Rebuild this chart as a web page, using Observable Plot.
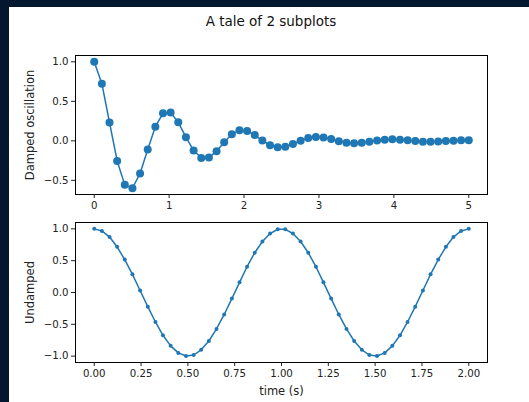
<!DOCTYPE html>
<html>
<head>
<meta charset="utf-8">
<script src="https://cdn.jsdelivr.net/npm/d3@7"></script>
<script src="https://cdn.jsdelivr.net/npm/@observablehq/plot@0.6"></script>
<style>
  body { margin: 0; width: 529px; height: 402px; background: #03182f; position: relative; overflow: hidden; font-family: "DejaVu Sans", sans-serif; }
  #panel { position: absolute; left: 9px; top: 7px; width: 520px; height: 395px; background: #ffffff; }
  #title { position: absolute; left: 11px; width: 520px; top: 13px; text-align: center; font-size: 13.5px; color: #111; }
  .sub { position: absolute; left: 0; }
  g[aria-label$="axis label"] { font-size: 11.5px; }
</style>
</head>
<body>
<div id="panel"></div>
<div id="title">A tale of 2 subplots</div>
<div id="top" class="sub" style="top:40px"></div>
<div id="bottom" class="sub" style="top:215px"></div>
<script>
const x1 = [0, 0.102, 0.204, 0.306, 0.408, 0.510, 0.612, 0.714, 0.816, 0.918, 1.020, 1.122, 1.224, 1.327, 1.429, 1.531, 1.633, 1.735, 1.837, 1.939, 2.041, 2.143, 2.245, 2.347, 2.449, 2.551, 2.653, 2.755, 2.857, 2.959, 3.061, 3.163, 3.265, 3.367, 3.469, 3.571, 3.673, 3.776, 3.878, 3.980, 4.082, 4.184, 4.286, 4.388, 4.490, 4.592, 4.694, 4.796, 4.898, 5.000];
const y1 = [1.000, 0.724, 0.232, -0.254, -0.557, -0.599, -0.413, -0.109, 0.179, 0.348, 0.358, 0.234, 0.047, -0.123, -0.216, -0.212, -0.131, -0.017, 0.083, 0.133, 0.126, 0.073, 0.003, -0.055, -0.082, -0.074, -0.040, 0.002, 0.036, 0.050, 0.043, 0.022, -0.004, -0.023, -0.031, -0.025, -0.012, 0.004, 0.015, 0.019, 0.015, 0.006, -0.003, -0.010, -0.011, -0.009, -0.003, 0.002, 0.006, 0.007];
const x2 = [0, 0.041, 0.082, 0.122, 0.163, 0.204, 0.245, 0.286, 0.327, 0.367, 0.408, 0.449, 0.490, 0.531, 0.571, 0.612, 0.653, 0.694, 0.735, 0.776, 0.816, 0.857, 0.898, 0.939, 0.980, 1.020, 1.061, 1.102, 1.143, 1.184, 1.224, 1.265, 1.306, 1.347, 1.388, 1.429, 1.469, 1.510, 1.551, 1.592, 1.633, 1.673, 1.714, 1.755, 1.796, 1.837, 1.878, 1.918, 1.959, 2.000];
const y2 = [1.000, 0.967, 0.871, 0.718, 0.518, 0.285, 0.032, -0.223, -0.463, -0.672, -0.838, -0.949, -0.998, -0.982, -0.901, -0.762, -0.572, -0.345, -0.096, 0.160, 0.405, 0.624, 0.801, 0.927, 0.992, 0.992, 0.927, 0.801, 0.624, 0.405, 0.160, -0.096, -0.345, -0.572, -0.762, -0.901, -0.982, -0.998, -0.949, -0.838, -0.672, -0.463, -0.223, 0.032, 0.285, 0.518, 0.718, 0.871, 0.967, 1.000];

const xTicksTop = [0, 1, 2, 3, 4, 5];
const yTicksTop = [-0.5, 0, 0.5, 1.0];
const xTicksBottom = [0, 0.25, 0.5, 0.75, 1.0, 1.25, 1.5, 1.75, 2.0];
const yTicksBottom = [-1.0, -0.5, 0, 0.5, 1.0];

const topTitle = "Damped oscillation";
const bottomTitle = "Undamped";
const xTitle = "time (s)";

const color = "#1f77b4";
const d1 = x1.map((x, i) => ({x, y: y1[i]}));
const d2 = x2.map((x, i) => ({x, y: y2[i]}));
const style = {background: "transparent", fontFamily: "DejaVu Sans", fontSize: "10.2px", color: "#222", overflow: "visible"};

const p1 = Plot.plot({
  width: 529, height: 175,
  marginLeft: 75, marginRight: 42, marginTop: 15, marginBottom: 21,
  style,
  x: {domain: [-0.25, 5.25]},
  y: {domain: [-0.679, 1.08]},
  marks: [
    Plot.frame({stroke: "black", strokeWidth: 1}),
    Plot.axisX({ticks: xTicksTop, tickFormat: d3.format("d"), tickSize: 4, tickPadding: 3, label: null}),
    Plot.axisY({ticks: yTicksTop, tickFormat: d3.format(".1f"), tickSize: 4, tickPadding: 3, label: topTitle, labelAnchor: "center", labelArrow: "none", labelOffset: 50}),
    Plot.line(d1, {x: "x", y: "y", stroke: color, strokeWidth: 1.5}),
    Plot.dot(d1, {x: "x", y: "y", r: 4, fill: color, stroke: "none"})
  ]
});
document.getElementById("top").append(p1);

const p2 = Plot.plot({
  width: 529, height: 187,
  marginLeft: 75, marginRight: 42, marginTop: 7, marginBottom: 40,
  style,
  x: {domain: [-0.1, 2.1]},
  y: {domain: [-1.0999, 1.0999]},
  marks: [
    Plot.frame({stroke: "black", strokeWidth: 1}),
    Plot.axisX({ticks: xTicksBottom, tickFormat: d3.format(".2f"), tickSize: 4, tickPadding: 3, label: xTitle, labelAnchor: "center", labelArrow: "none", labelOffset: 32}),
    Plot.axisY({ticks: yTicksBottom, tickFormat: d3.format(".1f"), tickSize: 4, tickPadding: 3, label: bottomTitle, labelAnchor: "center", labelArrow: "none", labelOffset: 50}),
    Plot.line(d2, {x: "x", y: "y", stroke: color, strokeWidth: 1.5}),
    Plot.dot(d2, {x: "x", y: "y", r: 2, fill: color, stroke: "none"})
  ]
});
document.getElementById("bottom").append(p2);
</script>
</body>
</html>
